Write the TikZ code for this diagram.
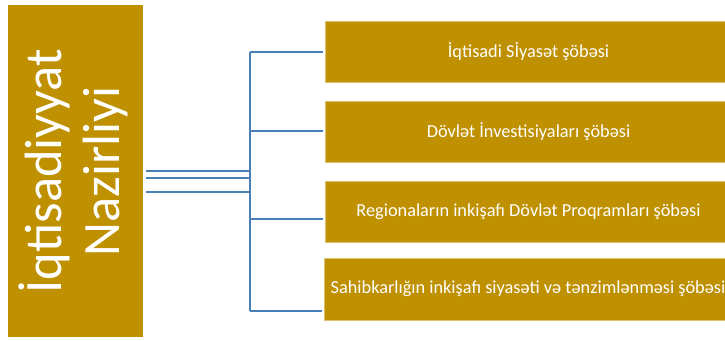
\documentclass[tikz,border=0pt]{standalone}
\usepackage{fontspec}
\setmainfont{Carlito}
\definecolor{gold}{RGB}{191,144,0}
\definecolor{linkblue}{RGB}{74,126,183}
\begin{document}
\begin{tikzpicture}[x=1pt,y=-1pt,
  dept/.style={draw=gold!55!white, line width=0.8pt, fill=gold, anchor=north west,
    minimum width=407pt, minimum height=61pt, inner sep=0pt},
  depttext/.style={text=white, font=\fontsize{18.3pt}{22pt}\selectfont},
  link/.style={draw=linkblue, line width=2pt}]
\useasboundingbox (0,0) rectangle (725,340);
\fill[white] (0,0) rectangle (725,340);
\node[fill=gold, anchor=north west, minimum width=135pt, minimum height=332pt, inner sep=0pt] (min) at (8,5) {};
\node[rotate=90, text=white, align=center, font=\fontsize{52.5pt}{58pt}\selectfont] (mintext) at ([xshift=-2pt]min.center) {İqtisadiyyat\\Nazirliyi};
\node[dept] (b1) at (325,21) {};
\node[dept] (b2) at (325,101) {};
\node[dept] (b3) at (325,181) {};
\node[dept, minimum height=62pt] (b4) at (324,258) {};
\node[depttext] (t1) at (528.5,51.5) {İqtisadi Sİyasət şöbəsi};
\node[depttext] (t2) at (528.5,131.5) {Dövlət İnvestisiyaları şöbəsi};
\node[depttext] (t3) at (528.5,211.5) {Regionaların inkişafı Dövlət Proqramları şöbəsi};
\node[depttext] (t4) at (528,289) {Sahibkarlığın inkişafı siyasəti və tənzimlənməsi şöbəsi};
\coordinate (bustop) at (250,52);
\coordinate (busbot) at (250,311);
\draw[link] (bustop) -- (busbot);
\draw[link] ([xshift=3pt]min.east) -- (min.east -| bustop);
\draw[link] ([xshift=3pt,yshift=-7pt]min.east) -- ([yshift=-7pt]min.east -| bustop);
\draw[link] ([xshift=3pt,yshift=-21pt]min.east) -- ([yshift=-21pt]min.east -| bustop);
\draw[link] (bustop) -- ([xshift=-2pt]b1.west |- bustop);
\draw[link] (250,131) -- ([xshift=-2pt]b2.west |- 250,131);
\draw[link] (250,219) -- ([xshift=-2pt]b3.west |- 250,219);
\draw[link] (busbot) -- ([xshift=-2pt]b4.west |- busbot);
\end{tikzpicture}
\end{document}
